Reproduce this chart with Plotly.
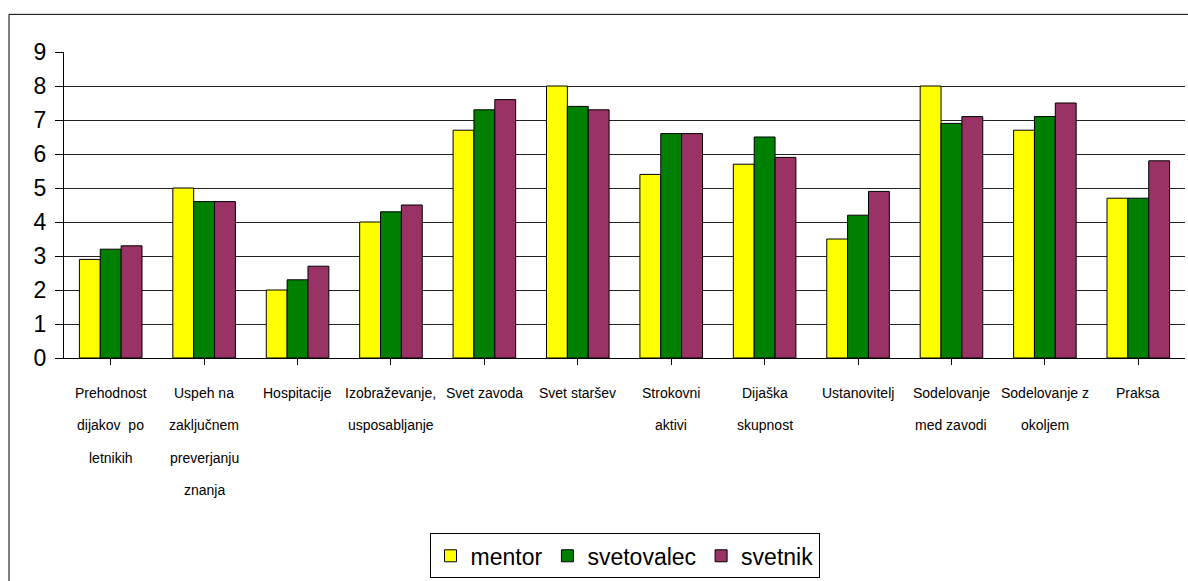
import plotly.graph_objects as go

# Categories (each entry is a list of label lines)
categories = [
    "Prehodnost", "Uspeh na", "Hospitacije", "Izobraževanje,", "Svet zavoda",
    "Svet staršev", "Strokovni", "Dijaška", "Ustanovitelj", "Sodelovanje",
    "Sodelovanje z", "Praksa",
]
label_lines = [
    ["Prehodnost", "dijakov  po", "letnikih"],
    ["Uspeh na", "zaključnem", "preverjanju", "znanja"],
    ["Hospitacije"],
    ["Izobraževanje,", "usposabljanje"],
    ["Svet zavoda"],
    ["Svet staršev"],
    ["Strokovni", "aktivi"],
    ["Dijaška", "skupnost"],
    ["Ustanovitelj"],
    ["Sodelovanje", "med zavodi"],
    ["Sodelovanje z", "okoljem"],
    ["Praksa"],
]

mentor = [2.9, 5.0, 2.0, 4.0, 6.7, 8.0, 5.4, 5.7, 3.5, 8.0, 6.7, 4.7]
svetovalec = [3.2, 4.6, 2.3, 4.3, 7.3, 7.4, 6.6, 6.5, 4.2, 6.9, 7.1, 4.7]
svetnik = [3.3, 4.6, 2.7, 4.5, 7.6, 7.3, 6.6, 5.9, 4.9, 7.1, 7.5, 5.8]

series = [
    ("mentor", mentor, "#FFFF00"),
    ("svetovalec", svetovalec, "#008000"),
    ("svetnik", svetnik, "#993366"),
]

x_idx = list(range(len(categories)))

fig = go.Figure()
for name, vals, color in series:
    fig.add_trace(go.Bar(
        name=name, x=x_idx, y=vals,
        marker=dict(color=color, line=dict(color="black", width=1)),
    ))

# Multi-line category labels with wide line spacing
annotations = []
line_step = 32.5 / 309
for i, lines in enumerate(label_lines):
    for j, txt in enumerate(lines):
        annotations.append(dict(
            x=i, y=-0.115 - j * line_step, xref="x", yref="paper",
            text=txt, showarrow=False, xanchor="center", yanchor="middle",
            font=dict(family="Arial, Liberation Sans", size=14, color="black"),
        ))

fig.update_layout(
    width=1188, height=581,
    margin=dict(l=64, r=3, t=52, b=220),
    paper_bgcolor="white", plot_bgcolor="white",
    barmode="group", bargap=0.33, bargroupgap=0,
    font=dict(family="Arial, Liberation Sans", color="black"),
    xaxis=dict(
        range=[-0.5, 11.5], tickmode="array", tickvals=x_idx,
        ticktext=[""] * len(x_idx), tickson="boundaries",
        ticks="outside", ticklen=6, tickcolor="black",
        showline=True, linecolor="black", linewidth=1,
        showgrid=False, zeroline=False,
    ),
    yaxis=dict(
        range=[0, 9], dtick=1, ticks="outside", ticklen=8, tickcolor="black",
        tickfont=dict(size=23, family="Arial, Liberation Sans"),
        ticklabelstandoff=4,
        showline=True, linecolor="black", linewidth=1,
        showgrid=True, gridcolor="#222222", gridwidth=1,
        zeroline=False,
    ),
    legend=dict(
        orientation="h", x=0.5, y=-0.573, xanchor="center", yanchor="top",
        bordercolor="black", borderwidth=1,
        font=dict(size=23, family="Arial, Liberation Sans"),
        itemwidth=30, tracegroupgap=0,
    ),
    showlegend=True,
    annotations=annotations,
    shapes=[dict(
        type="rect", xref="paper", yref="paper",
        x0=(9 - 64) / 1121, x1=1.02,
        y0=-0.75, y1=1 + (52 - 14) / 309,
        line=dict(color="black", width=1), layer="below",
    )],
)

fig.write_html("out.html")
